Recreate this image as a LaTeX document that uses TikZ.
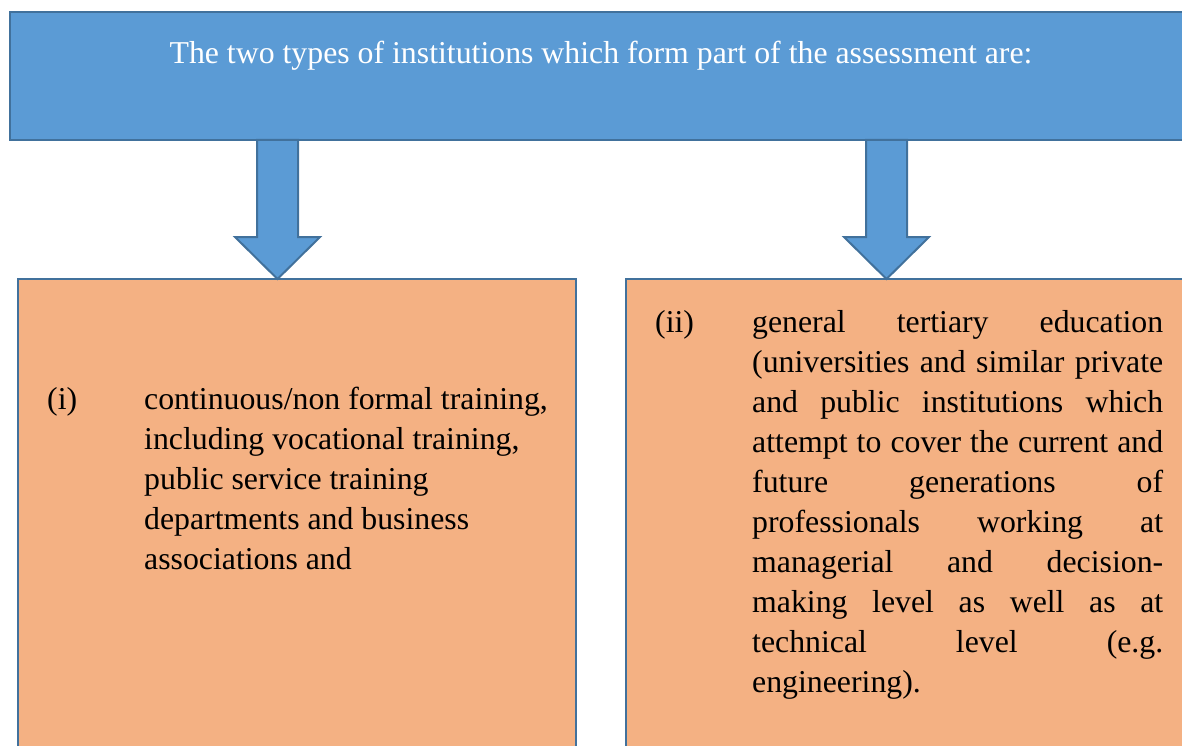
\documentclass[tikz,border=0pt]{standalone}
\usepackage{fontspec}
\setmainfont{Liberation Serif}
\usepackage{tikz}
\usetikzlibrary{positioning,calc}

\definecolor{headblue}{HTML}{5B9BD5}
\definecolor{edgeblue}{HTML}{41719C}
\definecolor{itemorange}{HTML}{F4B183}
\newcommand{\itemfont}{\fontsize{31.8}{40}\selectfont}

\tikzset{
  itembox/.style={draw=edgeblue, line width=2pt, fill=itemorange,
    minimum width=558pt, minimum height=520pt, outer sep=0pt},
  blockarrow/.style={draw=edgeblue, line width=2pt, fill=headblue, line join=miter},
  itemtext/.style={anchor=base west, inner sep=0pt, font=\itemfont}
}

\begin{document}
\begin{tikzpicture}[x=1pt,y=-1pt]
	\useasboundingbox (0,0) rectangle (1182,746);
	\clip (0,0) rectangle (1182,746);

	% Heading
	\node [draw=edgeblue,
		line width=2pt,
		fill=headblue,
		text=white,
		font=\itemfont,
		minimum width=1182pt,
		inner sep=0pt,
		text height=52pt,
		text depth=76pt
		] (head) at (601,76) {The two types of institutions which form part of the assessment are:};

	% (i) box
	\node [itembox] (boxI) at (297,539) {};

	% (ii) box
	\node [itembox, right=50pt of boxI] (boxII) {};

	% Arrows
	\coordinate (tipI) at ($(boxI.north west)+(259.5,0)$);
	\coordinate (tipII) at ($(boxII.north west)+(260.5,0)$);
	\draw[blockarrow] (tipI) -- ++(42.5,-42) -- ++(-22,0) -- ++(0,-97)
		-- ++(-41,0) -- ++(0,97) -- ++(-22,0) -- cycle;
	\draw[blockarrow] (tipII) -- ++(42.5,-42) -- ++(-22,0) -- ++(0,-97)
		-- ++(-41,0) -- ++(0,97) -- ++(-22,0) -- cycle;

	% Texts
	\node [itemtext] (txtI) at ($(boxI.north west)+(29,130)$)
		{\makebox[97pt][l]{(i)}\parbox[t]{415pt}{\raggedright
			continuous/non formal training,\\
			including vocational training,\\
			public service training\\
			departments and business\\
			associations and}};
	\node [itemtext] (txtII) at ($(boxII.north west)+(29,53)$)
		{\makebox[97pt][l]{(ii)}\parbox[t]{411pt}{\raggedright
			\makebox[411pt][s]{general tertiary education}\\
			\makebox[411pt][s]{(universities and similar private}\\
			\makebox[411pt][s]{and public institutions which}\\
			\makebox[411pt][s]{attempt to cover the current and}\\
			\makebox[411pt][s]{future generations of}\\
			\makebox[411pt][s]{professionals working at}\\
			\makebox[411pt][s]{managerial and decision-}\\
			\makebox[411pt][s]{making level as well as at}\\
			\makebox[411pt][s]{technical level (e.g.}\\
			engineering).}};

\end{tikzpicture}
\end{document}
